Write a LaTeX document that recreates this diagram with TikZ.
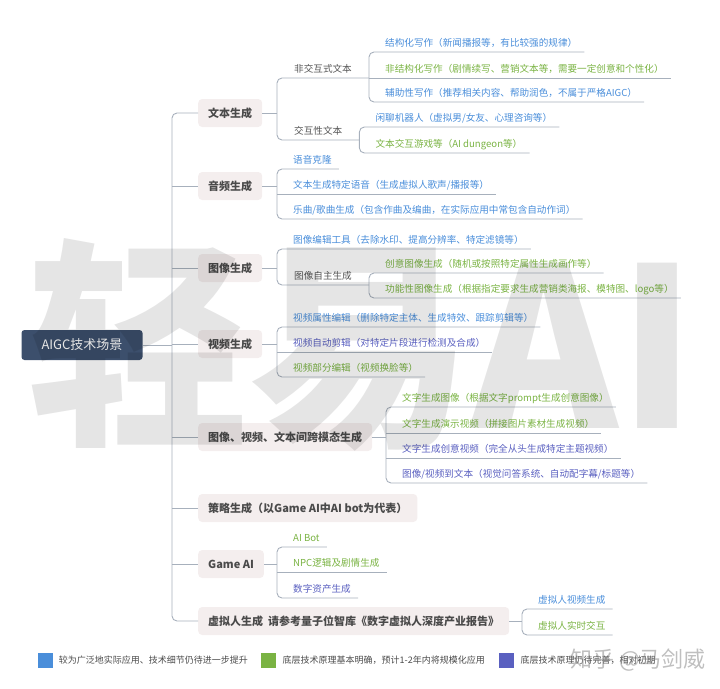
\documentclass[tikz,border=0pt]{standalone}
\usepackage{fontspec}
\setmainfont{Noto Sans CJK SC}
\usetikzlibrary{positioning}

\definecolor{rootnavy}{HTML}{3C4F6C}
\definecolor{topicfill}{HTML}{F4EEEE}
\definecolor{topictext}{HTML}{4A4A4A}
\definecolor{subgray}{HTML}{555555}
\definecolor{linkgray}{HTML}{A7B0BC}
\definecolor{wideblue}{HTML}{4A8EDA}
\definecolor{cleargreen}{HTML}{7AB343}
\definecolor{earlypurple}{HTML}{5A60C0}

\begin{document}
\begin{tikzpicture}[x=1pt,y=-1pt,
		root/.style={rectangle,rounded corners=3pt,fill=rootnavy,text=white,minimum width=121pt,minimum height=30pt,font=\fontsize{13}{15}\selectfont},
		topic/.style={rectangle,rounded corners=4pt,fill=topicfill,text=topictext,anchor=west,minimum height=28pt,inner xsep=10pt,font=\fontsize{11}{13}\selectfont\bfseries},
		leaf/.style={anchor=south west,inner xsep=0pt,inner ysep=3pt,text height=7pt,text depth=2pt,font=\fontsize{9.6}{11}\selectfont,
			execute at begin node=\hspace*{16pt},execute at end node=\hspace*{7pt}},
		sub/.style={anchor=south west,inner xsep=17pt,inner ysep=3pt,text height=7pt,text depth=2pt,text=subgray,font=\fontsize{9.6}{11}\selectfont},
		link/.style={draw=linkgray,line width=0.9pt,rounded corners=5pt},
		swatch/.style={rectangle,minimum size=15pt,inner sep=0pt},
		keytext/.style={inner sep=0pt,text=topictext,font=\fontsize{9}{10}\selectfont}]
	\useasboundingbox (0,0) rectangle (720,688);

	\node [root] (aigc) at (82,345) {AIGC技术场景};
	\coordinate (trunk) at (172,345);

	% first level
	\node [topic] (text-gen) at (198,113) {文本生成};
	\node [topic] (audio-gen) at (198,186) {音频生成};
	\node [topic] (image-gen) at (198,268) {图像生成};
	\node [topic] (video-gen) at (198,344) {视频生成};
	\node [topic] (cross-gen) at (198,437) {图像、视频、文本间跨模态生成};
	\node [topic] (strategy-gen) at (198,508) {策略生成（以Game AI中AI bot为代表）};
	\node [topic] (game-ai) at (198,564) {Game AI};
	\node [topic] (human-gen) at (198,621) {虚拟人生成\ \ 请参考量子位智库《数字虚拟人深度产业报告》};

	% text
	\node [sub] (non-interactive) at (277,78) {非交互式文本};
	\node [sub] (interactive) at (277,140) {交互性文本};
	\node [leaf,text=wideblue] (structured) at ([yshift=26pt]non-interactive.south east) {结构化写作（新闻播报等，有比较强的规律）};
	\node [leaf,text=cleargreen] (unstructured) at (non-interactive.south east) {非结构化写作（剧情续写、营销文本等，需要一定创意和个性化）};
	\node [leaf,text=wideblue] (assist) at ([yshift=-24pt]non-interactive.south east) {辅助性写作（推荐相关内容、帮助润色，不属于严格AIGC）};
	\node [leaf,text=wideblue] (chatbot) at ([yshift=13pt]interactive.south east) {闲聊机器人（虚拟男/女友、心理咨询等）};
	\node [leaf,text=cleargreen] (text-game) at ([yshift=-13pt]interactive.south east) {文本交互游戏等（AI dungeon等）};

	% audio
	\node [leaf,text=wideblue] (voice-clone) at (277,169) {语音克隆};
	\node [leaf,text=wideblue] (tts) at (277,194) {文本生成特定语音（生成虚拟人歌声/播报等）};
	\node [leaf,text=wideblue] (music) at (277,219) {乐曲/歌曲生成（包含作曲及编曲，在实际应用中常包含自动作词）};

	% image
	\node [leaf,text=wideblue] (image-edit) at (277,249) {图像编辑工具（去除水印、提高分辨率、特定滤镜等）};
	\node [sub] (image-self) at (277,285) {图像自主生成};
	\node [leaf,text=cleargreen] (image-creative) at ([yshift=12pt]image-self.south east) {创意图像生成（随机或按照特定属性生成画作等）};
	\node [leaf,text=cleargreen] (image-function) at ([yshift=-13pt]image-self.south east) {功能性图像生成（根据指定要求生成营销类海报、模特图、logo等）};

	% video
	\node [leaf,text=wideblue] (video-attr) at (277,327) {视频属性编辑（删除特定主体、生成特效、跟踪剪辑等）};
	\node [leaf,text=earlypurple] (video-cut) at (277,352) {视频自动剪辑（对特定片段进行检测及合成）};
	\node [leaf,text=cleargreen] (video-part) at (277,377) {视频部分编辑（视频换脸等）};

	% cross modal
	\node [leaf,text=cleargreen] (t2i) at (386,407) {文字生成图像（根据文字prompt生成创意图像）};
	\node [leaf,text=cleargreen] (t2slides) at (386,433) {文字生成演示视频（拼接图片素材生成视频）};
	\node [leaf,text=earlypurple] (t2v) at (386,458) {文字生成创意视频（完全从头生成特定主题视频）};
	\node [leaf,text=earlypurple] (v2t) at (386,483) {图像/视频到文本（视觉问答系统、自动配字幕/标题等）};

	% game
	\node [leaf,text=cleargreen] (ai-bot) at (277,547) {AI Bot};
	\node [leaf,text=cleargreen] (npc) at (277,572) {NPC逻辑及剧情生成};
	\node [leaf,text=earlypurple] (assets) at (277,598) {数字资产生成};

	% digital human
	\node [leaf,text=wideblue] (human-video) at (522,609) {虚拟人视频生成};
	\node [leaf,text=cleargreen] (human-live) at (522,635) {虚拟人实时交互};

	% trunk
	\draw [link] (text-gen.west) -- (text-gen.west -| trunk) -- (human-gen.west -| trunk) -- (human-gen.west);
	\draw [link] (aigc.east) -- (trunk);
	\foreach \t in {audio-gen,image-gen,video-gen,cross-gen,strategy-gen,game-ai}
		\draw [link] (\t.west) -- (\t.west -| trunk);

	% branches
	\draw [link] (text-gen.east) -- (text-gen.east -| non-interactive.south west);
	\draw [link] (non-interactive.south east) -- (non-interactive.south west) -- (interactive.south west) -- (interactive.south east);
	\draw [link] (structured.south east) -- (structured.south west) -- (assist.south west) -- (assist.south east);
	\draw [link] (chatbot.south east) -- (chatbot.south west) -- (text-game.south west) -- (text-game.south east);

	\draw [link] (audio-gen.east) -- (audio-gen.east -| tts.south west);
	\draw [link] (voice-clone.south east) -- (voice-clone.south west) -- (music.south west) -- (music.south east);

	\draw [link] (image-gen.east) -- (image-gen.east -| image-edit.south west);
	\draw [link] (image-edit.south east) -- (image-edit.south west) -- (image-self.south west) -- (image-self.south east);
	\draw [link] (image-creative.south east) -- (image-creative.south west) -- (image-function.south west) -- (image-function.south east);

	\draw [link] (video-gen.east) -- (video-gen.east -| video-cut.south west);
	\draw [link] (video-attr.south east) -- (video-attr.south west) -- (video-part.south west) -- (video-part.south east);

	\draw [link] (cross-gen.east) -- (cross-gen.east -| t2i.south west);
	\draw [link] (t2i.south east) -- (t2i.south west) -- (v2t.south west) -- (v2t.south east);

	\draw [link] (game-ai.east) -- (game-ai.east -| npc.south west);
	\draw [link] (ai-bot.south east) -- (ai-bot.south west) -- (assets.south west) -- (assets.south east);

	\draw [link] (human-gen.east) -- (human-gen.east -| human-video.south west);
	\draw [link] (human-video.south east) -- (human-video.south west) -- (human-live.south west) -- (human-live.south east);

	% middle underlines
	\foreach \m in {unstructured,tts,video-cut,t2slides,t2v,npc}
		\draw [link] (\m.south west) -- (\m.south east);

	% legend
	\node [swatch,fill=wideblue] (key-wide) at (45,660) {};
	\node [keytext] (key-wide-text) [right=6pt of key-wide] {较为广泛地实际应用、技术细节仍待进一步提升};
	\node [swatch,fill=cleargreen] (key-clear) [right=13pt of key-wide-text] {};
	\node [keytext] (key-clear-text) [right=6pt of key-clear] {底层技术原理基本明确，预计1-2年内将规模化应用};
	\node [swatch,fill=earlypurple] (key-early) [right=14pt of key-clear-text] {};
	\node [keytext] (key-early-text) [right=6pt of key-early] {底层技术原理仍待完善，相对初期};

	% watermarks
	\node [text=black,text opacity=0.1,font=\fontsize{222}{222}\selectfont\bfseries] (big-mark) at (362,345) {轻易AI};
	\node [text=gray,text opacity=0.5,font=\fontsize{22}{24}\selectfont] (zhihu-mark) at (638,660) {知乎 @马剑威};
\end{tikzpicture}
\end{document}
